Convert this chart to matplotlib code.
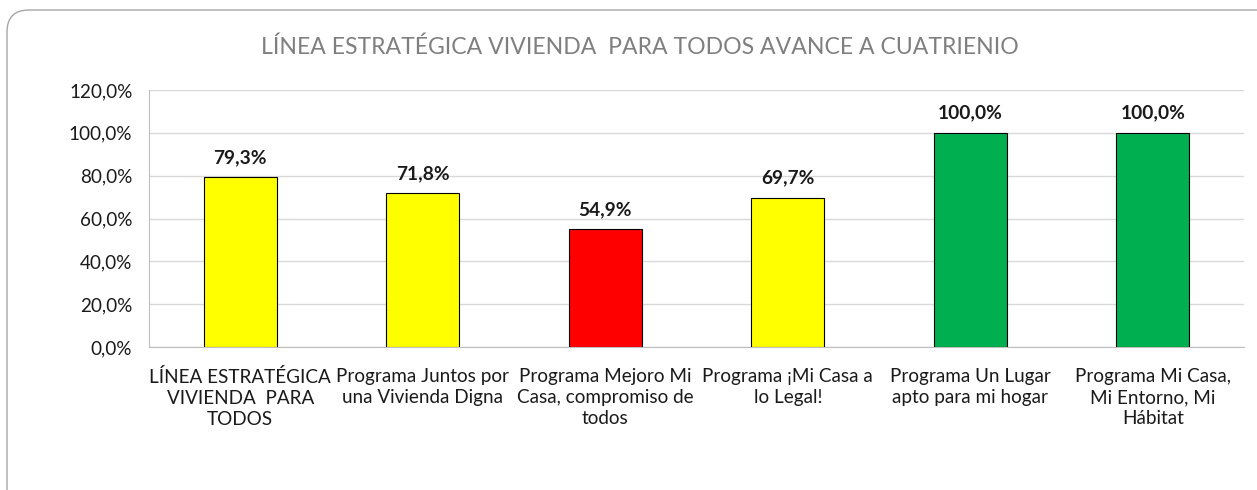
import matplotlib.pyplot as plt
from matplotlib.patches import FancyBboxPatch
from matplotlib.ticker import FuncFormatter

plt.rcParams['font.family'] = ['Lato', 'DejaVu Sans']

categories = [
    "LÍNEA ESTRATÉGICA\nVIVIENDA  PARA\nTODOS",
    "Programa Juntos por\nuna Vivienda Digna",
    "Programa Mejoro Mi\nCasa, compromiso de\ntodos",
    "Programa ¡Mi Casa a\nlo Legal!",
    "Programa Un Lugar\napto para mi hogar",
    "Programa Mi Casa,\nMi Entorno, Mi\nHábitat",
]
avance = [79.3, 71.8, 54.9, 69.7, 100.0, 100.0]
colores = ['#FFFF00', '#FFFF00', '#FF0000', '#FFFF00', '#00B050', '#00B050']

fig = plt.figure(figsize=(12.57, 4.90), dpi=100)

# background axes in pixel units for the rounded chart border
bg = fig.add_axes([0, 0, 1, 1], zorder=-1)
bg.set_xlim(0, 1257)
bg.set_ylim(490, 0)
bg.axis('off')
bg.add_patch(FancyBboxPatch((7, 10), 1300, 520, boxstyle="round,pad=0,rounding_size=22",
                            facecolor='white', edgecolor='#A6A6A6', linewidth=1.0))

ax = fig.add_axes([149 / 1257, 1 - 347 / 490, (1244 - 149) / 1257, (347 - 90) / 490])
ax.set_facecolor('white')

x = range(len(categories))
bars = ax.bar(x, avance, width=0.4, color=colores, edgecolor='black', linewidth=0.8, zorder=3)

for b, v in zip(bars, avance):
    ax.annotate(f"{v:.1f}%".replace('.', ','), (b.get_x() + b.get_width() / 2, v),
                xytext=(0, 8), textcoords='offset points', ha='center', va='bottom',
                fontsize=13.8, fontweight='bold', color='#1A1A1A')

ax.set_xlim(-0.5, len(categories) - 0.5)
ax.set_ylim(0, 120)
ax.set_yticks(range(0, 121, 20))
ax.yaxis.set_major_formatter(FuncFormatter(lambda v, p: f"{v:.1f}%".replace('.', ',')))
ax.set_xticks(list(x))
ax.set_xticklabels(categories, fontsize=13.6, color='#1A1A1A', linespacing=1.3)
ax.tick_params(axis='y', labelsize=13.6, labelcolor='#1A1A1A', length=0, pad=12)
ax.tick_params(axis='x', length=0, pad=15)

ax.grid(axis='y', color='#D9D9D9', linewidth=1, zorder=0)
for s in ['top', 'right']:
    ax.spines[s].set_visible(False)
for s in ['left', 'bottom']:
    ax.spines[s].set_color('#BFBFBF')

fig.text(640 / 1257, 1 - 47 / 490, "LÍNEA ESTRATÉGICA VIVIENDA  PARA TODOS AVANCE A CUATRIENIO",
         ha='center', va='center', fontsize=16.6, color='#7F7F7F')

fig.savefig('out.png', dpi=100)
